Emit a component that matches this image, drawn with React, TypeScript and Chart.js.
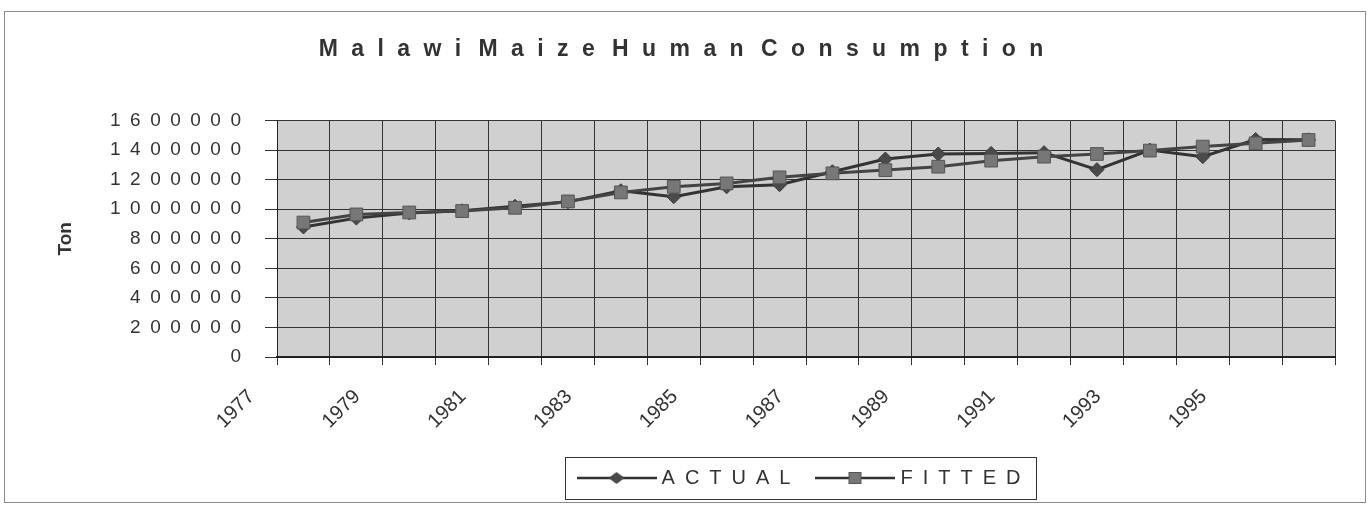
import React, { useEffect, useRef } from 'react';
import { Chart, registerables } from 'chart.js';

Chart.register(...registerables);

const years = ['1977', '1978', '1979', '1980', '1981', '1982', '1983', '1984', '1985', '1986', '1987', '1988', '1989', '1990', '1991', '1992', '1993', '1994', '1995', '1996'];
const actual = [880000, 940000, 975000, 990000, 1020000, 1050000, 1125000, 1085000, 1152000, 1166000, 1254000, 1340000, 1374000, 1378000, 1383000, 1268000, 1401000, 1356000, 1472000, 1470000];
const fitted = [910000, 965000, 978000, 988000, 1010000, 1053000, 1114000, 1152000, 1175000, 1216000, 1243000, 1265000, 1288000, 1329000, 1356000, 1374000, 1397000, 1424000, 1446000, 1469000];
const yTicks = { min: 0, max: 1600000, step: 200000 };
const titleText = 'Malawi Maize Human Consumption';
const seriesNames = ['ACTUAL', 'FITTED'];
const yTitle = 'Ton';

const EN = '\u2002';
const HAIR = '\u200A';
const spacedTitle = (s: string) =>
  s.split(' ').map((w) => w.split('').join(EN + HAIR)).join(EN + HAIR + HAIR + HAIR) + EN + EN;
const spaced = (s: string) => s.split('').join(EN);
const FONT = "'Liberation Sans', Arial, sans-serif";

function makeSample(kind: 'diamond' | 'square'): HTMLCanvasElement {
  const c = document.createElement('canvas');
  c.width = 80;
  c.height = 18;
  const ctx = c.getContext('2d')!;
  ctx.strokeStyle = '#333';
  ctx.lineWidth = 2.5;
  ctx.beginPath();
  ctx.moveTo(0, 9);
  ctx.lineTo(80, 9);
  ctx.stroke();
  if (kind === 'diamond') {
    ctx.fillStyle = '#4a4a4a';
    ctx.beginPath();
    ctx.moveTo(32, 9);
    ctx.lineTo(40, 3);
    ctx.lineTo(48, 9);
    ctx.lineTo(40, 15);
    ctx.closePath();
    ctx.fill();
  } else {
    ctx.fillStyle = '#777';
    ctx.strokeStyle = '#555';
    ctx.lineWidth = 1;
    ctx.fillRect(33, 3, 13, 12);
    ctx.strokeRect(33.5, 3.5, 12, 11);
  }
  return c;
}

export default function App() {
  const ref = useRef<HTMLCanvasElement | null>(null);

  useEffect(() => {
    if (!ref.current) return;
    const samples = [makeSample('diamond'), makeSample('square')];

    const framePlugin = {
      id: 'frame',
      beforeDraw(chart: any) {
        const { ctx, chartArea } = chart;
        ctx.save();
        ctx.fillStyle = '#ffffff';
        ctx.fillRect(0, 0, chart.width, chart.height);
        ctx.strokeStyle = '#8a8a8a';
        ctx.lineWidth = 1;
        ctx.strokeRect(4.5, 11.5, 1361, 491);
        ctx.fillStyle = '#d0d0d0';
        ctx.fillRect(chartArea.left, chartArea.top, chartArea.right - chartArea.left, chartArea.bottom - chartArea.top);
        ctx.restore();
      },
      afterDraw(chart: any) {
        const lg = chart.legend;
        if (!lg || !lg.legendHitBoxes || !lg.legendHitBoxes.length) return;
        const hb = lg.legendHitBoxes;
        let minX = Infinity, maxX = -Infinity, minY = Infinity, maxY = -Infinity;
        hb.forEach((b: any) => {
          minX = Math.min(minX, b.left);
          maxX = Math.max(maxX, b.left + b.width);
          minY = Math.min(minY, b.top);
          maxY = Math.max(maxY, b.top + b.height);
        });
        const ctx = chart.ctx;
        ctx.save();
        ctx.strokeStyle = '#333';
        ctx.lineWidth = 1;
        ctx.strokeRect(Math.round(minX - 17) + 0.5, Math.round(minY - 11) + 0.5, Math.round(maxX - minX + 22), Math.round(maxY - minY + 22));
        ctx.restore();
      },
    };

    const chart = new Chart(ref.current, {
      type: 'line',
      data: {
        labels: years,
        datasets: [
          {
            label: spaced(seriesNames[0]) + EN + EN,
            data: actual,
            borderColor: '#333',
            borderWidth: 3,
            pointStyle: 'rectRot',
            pointRadius: 7,
            pointBackgroundColor: '#4a4a4a',
            pointBorderColor: '#3a3a3a',
            pointBorderWidth: 1,
            tension: 0,
            order: 0,
          },
          {
            label: spaced(seriesNames[1]) + EN,
            data: fitted,
            borderColor: '#444',
            borderWidth: 3,
            pointStyle: 'rect',
            pointRadius: 9,
            pointBackgroundColor: '#777',
            pointBorderColor: '#555',
            pointBorderWidth: 1,
            tension: 0,
            order: -1,
          },
        ],
      },
      options: {
        animation: false,
        responsive: true,
        maintainAspectRatio: false,
        layout: { padding: { left: 50, right: 36, top: 0, bottom: 8 } },
        plugins: {
          tooltip: { enabled: false },
          title: {
            display: true,
            text: spacedTitle(titleText),
            color: '#333',
            font: { family: FONT, size: 23, weight: 'bold' },
            padding: { top: 36, bottom: 57 },
          },
          legend: {
            display: true,
            position: 'bottom',
            fullSize: false,
            labels: {
              usePointStyle: true,
              pointStyleWidth: 70,
              color: '#333',
              font: { family: FONT, size: 20 },
              padding: 10,
              sort: (a: any, b: any) => a.datasetIndex - b.datasetIndex,
              generateLabels: (chart: any) => {
                const base = Chart.defaults.plugins.legend.labels.generateLabels(chart);
                return base.map((it: any) => ({ ...it, pointStyle: samples[it.datasetIndex] }));
              },
            },
          },
        },
        scales: {
          x: {
            type: 'category',
            offset: true,
            grid: { offset: true, color: '#333', lineWidth: 1, tickLength: 8, tickColor: '#333' },
            border: { color: '#222', width: 2 },
            ticks: {
              autoSkip: false,
              maxRotation: 45,
              minRotation: 45,
              labelOffset: -52,
              padding: 20,
              color: '#333',
              font: { family: FONT, size: 20 },
              callback: function (this: any, _v: any, i: number) {
                return i % 2 === 0 ? years[i] : '';
              },
            },
            afterFit: (s: any) => {
              s.height = 101;
            },
          },
          y: {
            min: yTicks.min,
            max: yTicks.max,
            grid: { color: '#333', lineWidth: 1, tickLength: 12, tickColor: '#333' },
            border: { color: '#222', width: 1 },
            ticks: {
              stepSize: yTicks.step,
              padding: 24,
              color: '#333',
              font: { family: FONT, size: 19 },
              callback: (v: any) => String(v).split('').join(EN),
            },
            title: {
              display: true,
              text: yTitle,
              color: '#333',
              font: { family: FONT, size: 19, weight: 'bold' },
              padding: { top: 4, bottom: 4 },
            },
            afterFit: (s: any) => {
              s.width = 227;
            },
          },
        },
      },
      plugins: [framePlugin],
    } as any);

    return () => chart.destroy();
  }, []);

  return (
    <div style={{ position: 'absolute', left: 0, top: 0, width: 1371, height: 506 }}>
      <canvas ref={ref} />
    </div>
  );
}
